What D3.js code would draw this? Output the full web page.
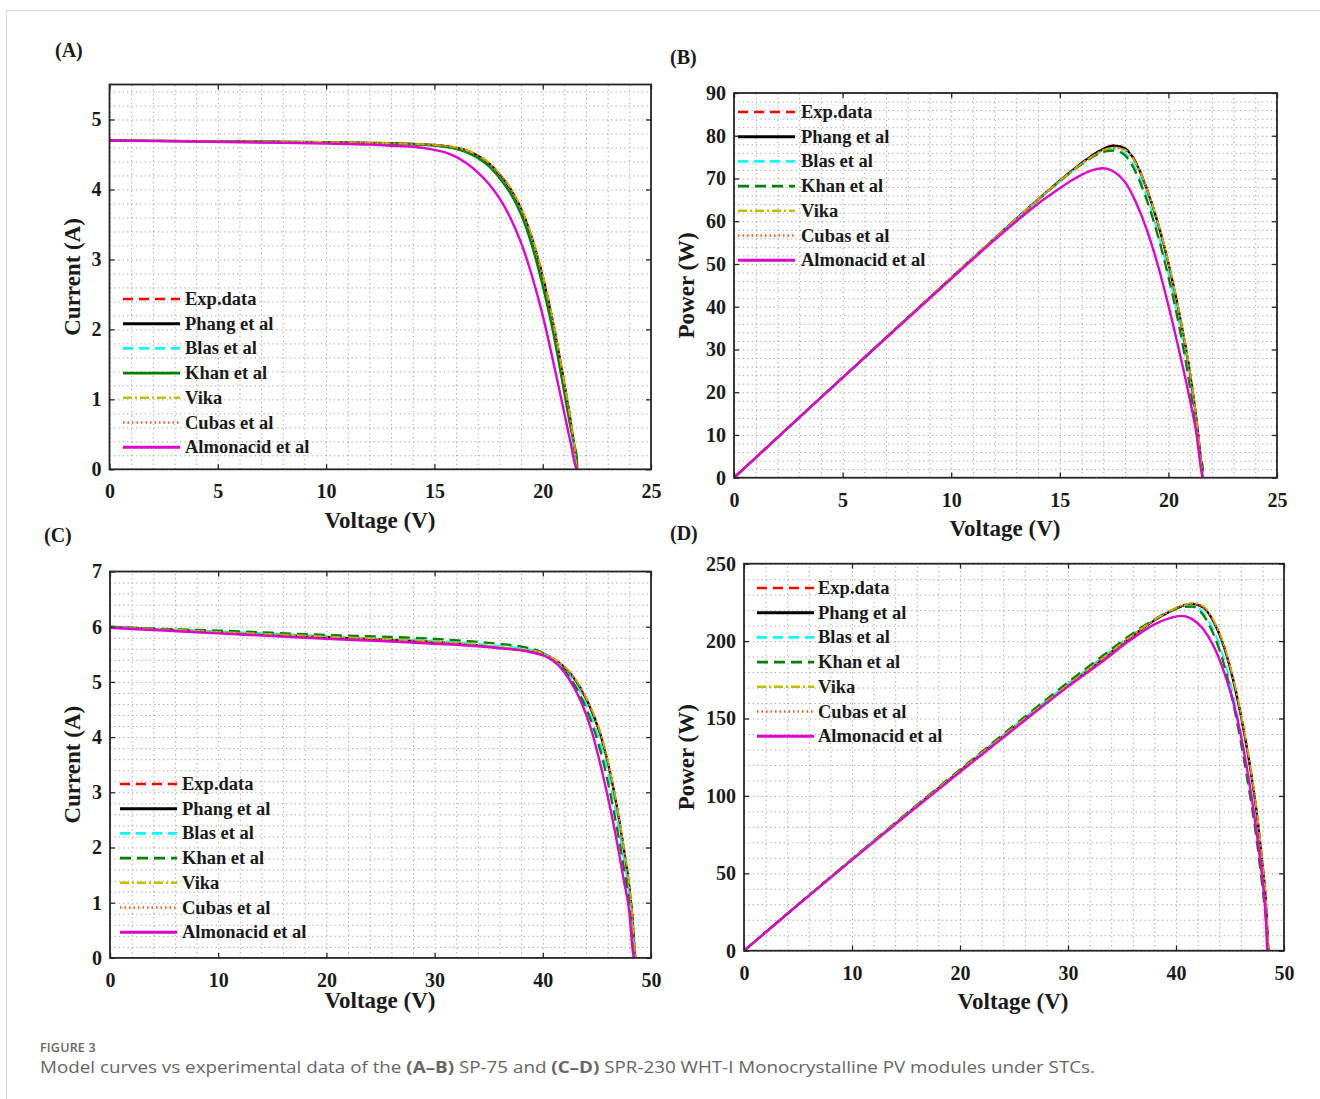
<!DOCTYPE html>
<html><head><meta charset="utf-8">
<script src="https://cdn.jsdelivr.net/npm/d3@7"></script>
<style>
html,body{margin:0;padding:0;background:#fff;}
svg{display:block;}
</style></head><body>
<svg id="chart" width="1320" height="1099"></svg>
<script>
// ---------------- DATA ----------------
const seriesNames = ["Exp.data","Phang et al","Blas et al","Khan et al","Vika","Cubas et al","Almonacid et al"];

// Panel A : SP-75 I-V
const voltA = [0,2,4,6,8,10,12,13,14,15,15.5,16,16.5,17,17.5,18,18.5,19,19.5,20,20.5,21,21.3,21.5,21.57,21.6];
const curA_exp   = [4.70,4.695,4.69,4.685,4.68,4.672,4.665,4.658,4.648,4.632,4.618,4.598,4.557,4.485,4.38,4.222,4.02,3.73,3.31,2.77,2.08,1.23,0.67,0.22,0,null];
const curA_phang = [4.70,4.695,4.69,4.685,4.68,4.675,4.665,4.66,4.65,4.635,4.62,4.598,4.555,4.48,4.375,4.215,4.01,3.72,3.30,2.75,2.06,1.21,0.66,0.20,0,null];
const curA_blas  = [4.70,4.695,4.69,4.685,4.68,4.672,4.662,4.655,4.645,4.628,4.61,4.585,4.535,4.455,4.345,4.175,3.965,3.665,3.23,2.65,1.95,1.10,0.57,0.15,0,null];
const curA_khan  = [4.70,4.695,4.69,4.685,4.68,4.672,4.662,4.655,4.645,4.628,4.61,4.58,4.53,4.45,4.335,4.165,3.95,3.645,3.20,2.62,1.93,1.09,0.58,0.30,0.19,0];
const curA_vika  = [4.70,4.695,4.69,4.686,4.681,4.676,4.667,4.661,4.652,4.636,4.622,4.602,4.56,4.49,4.387,4.23,4.03,3.74,3.33,2.78,2.09,1.24,0.69,0.24,0,null];
const curA_cubas = [4.70,4.695,4.69,4.685,4.68,4.675,4.666,4.66,4.651,4.635,4.62,4.60,4.558,4.487,4.383,4.225,4.022,3.732,3.32,2.77,2.08,1.23,0.68,0.23,0,null];
const curA_almo  = [4.70,4.69,4.685,4.675,4.665,4.655,4.64,4.625,4.61,4.565,4.53,4.465,4.37,4.245,4.085,3.875,3.60,3.24,2.77,2.20,1.52,0.80,0.36,0.06,0,null];

// Panel B : SP-75 P-V
const voltB = [0,2,4,6,8,10,12,13,14,15,15.5,16,16.5,17,17.5,18,18.5,19,19.5,20,20.5,21,21.3,21.5,21.57,21.6];
const powB_exp   = [0,9.39,18.76,28.1,37.43,46.73,55.98,60.58,65.1,69.5,71.6,73.62,75.45,76.95,77.75,77.1,73.9,67.8,60.0,50.3,38.6,24.4,13.4,3.9,0,null];
const powB_phang = [0,9.39,18.76,28.11,37.44,46.75,56.0,60.6,65.1,69.5,71.6,73.6,75.4,76.9,77.7,77.0,73.7,67.6,59.8,50.1,38.4,24.2,13.2,3.8,0,null];
const powB_blas  = [0,9.39,18.76,28.1,37.43,46.72,55.95,60.5,65.0,69.35,71.4,73.35,75.1,76.4,76.9,75.9,72.2,65.8,57.6,47.9,36.2,22.0,11.4,2.8,0,null];
const powB_khan  = [0,9.39,18.76,28.1,37.43,46.72,55.95,60.5,65.0,69.35,71.4,73.3,75.0,76.2,76.5,75.4,71.4,65.0,56.9,47.0,35.3,21.0,10.8,4.2,3.0,0];
const powB_vika  = [0,9.39,18.76,28.11,37.45,46.76,56.0,60.6,65.1,69.45,71.5,73.45,75.2,76.6,77.2,76.7,73.6,67.7,60.0,50.4,38.7,24.5,13.5,4.0,0,null];
const powB_cubas = [0,9.39,18.76,28.1,37.44,46.74,55.98,60.55,65.05,69.4,71.45,73.4,75.15,76.55,77.15,76.6,73.5,67.6,59.9,50.2,38.5,24.3,13.3,3.9,0,null];
const powB_almo  = [0,9.38,18.74,28.05,37.3,46.5,55.65,60.0,64.1,67.7,69.4,70.85,71.95,72.4,71.6,69.2,64.5,58.1,50.0,40.3,29.6,18.0,10.0,2.0,0,null];

// Panel C : SPR-230 I-V
const voltC = [0,5,10,15,20,25,30,33,36,38,39.5,40.5,41.5,42.5,43.5,44.5,45.5,46.5,47.5,48,48.3,48.4,48.55];
const curC_exp   = [5.99,5.95,5.905,5.865,5.815,5.775,5.725,5.685,5.625,5.585,5.545,5.475,5.35,5.17,4.89,4.50,3.95,3.11,1.97,1.29,0.70,0.40,0];
const curC_phang = [5.99,5.95,5.90,5.86,5.81,5.77,5.72,5.68,5.62,5.58,5.54,5.47,5.34,5.16,4.88,4.48,3.93,3.09,1.95,1.27,0.68,0.38,0];
const curC_blas  = [6.0,5.955,5.915,5.875,5.83,5.79,5.745,5.705,5.65,5.605,5.555,5.47,5.32,5.11,4.80,4.36,3.77,2.90,1.78,1.12,0.55,0.28,0];
const curC_khan  = [6.0,5.96,5.93,5.89,5.85,5.82,5.78,5.74,5.69,5.64,5.57,5.47,5.31,5.08,4.74,4.27,3.62,2.72,1.62,0.98,0.45,0.22,0];
const curC_vika  = [5.99,5.95,5.905,5.865,5.82,5.78,5.73,5.69,5.63,5.59,5.55,5.48,5.355,5.18,4.90,4.51,3.97,3.13,1.99,1.31,0.72,0.41,0];
const curC_cubas = [5.99,5.95,5.90,5.86,5.815,5.77,5.72,5.68,5.62,5.58,5.545,5.475,5.345,5.165,4.885,4.49,3.94,3.10,1.96,1.28,0.69,0.39,0];
const curC_almo  = [5.98,5.93,5.88,5.83,5.78,5.74,5.69,5.66,5.61,5.57,5.51,5.44,5.29,5.03,4.66,4.12,3.36,2.46,1.39,0.82,0.15,0,null];

// Panel D : SPR-230 P-V
const voltD = [0,5,10,15,20,25,30,33,36,38,39.5,40.5,41.5,42.5,43.5,44.5,45.5,46.5,47.5,48,48.3,48.45,48.55];
const powD_exp   = [0,29.7,59.0,87.9,116.3,144.4,171.7,187.7,203.7,213.6,219.5,222.7,224.3,222.2,212.7,195.6,169.3,134.2,88.2,56.6,34.5,14.4,0];
const powD_phang = [0,29.7,59.0,87.9,116.3,144.3,171.6,187.5,203.5,213.4,219.3,222.4,224.0,221.8,212.2,195.0,168.6,133.5,87.5,56.0,34.0,14.0,0];
const powD_blas  = [0,29.75,59.2,88.2,116.7,145.0,172.5,188.5,204.5,213.8,219.4,222.2,222.8,218.5,206.5,187.0,158.5,121.5,75.5,46.0,26.5,10.0,0];
const powD_khan  = [0,29.8,59.3,88.4,117.0,145.5,173.4,189.4,205.0,214.0,219.5,222.0,222.3,217.0,204.0,183.5,153.0,115.0,70.0,41.0,22.0,8.0,0];
const powD_vika  = [0,29.7,59.0,87.9,116.3,144.4,171.8,187.8,203.8,213.8,219.8,223.0,224.5,222.6,213.2,196.2,170.0,135.0,89.0,57.2,35.0,14.8,0];
const powD_cubas = [0,29.7,59.0,87.9,116.3,144.3,171.6,187.6,203.6,213.5,219.4,222.6,224.2,222.0,212.5,195.4,169.0,134.0,88.0,56.4,34.3,14.2,0];
const powD_almo  = [0,29.6,58.7,87.3,115.4,143.2,170.6,185.8,201.8,210.8,215.0,216.3,214.2,208.0,196.5,179.0,155.2,120.5,74.5,46.5,23.0,0,null];

// Tick labels
const xTicksA = [0,5,10,15,20,25];
const yTicksA = [0,1,2,3,4,5];
const xTicksB = [0,5,10,15,20,25];
const yTicksB = [0,10,20,30,40,50,60,70,80,90];
const xTicksC = [0,10,20,30,40,50];
const yTicksC = [0,1,2,3,4,5,6,7];
const xTicksD = [0,10,20,30,40,50];
const yTicksD = [0,50,100,150,200,250];

// ---------------- STYLE / LAYOUT ----------------
const styles = {
  "Exp.data":        {color:"#ff0000", dash:"10,6",     w:2},
  "Phang et al":     {color:"#000000", dash:null,       w:2.3},
  "Blas et al":      {color:"#00ffff", dash:"10,6",     w:2},
  "Khan et al":      {color:"#008000", dash:"11,6",     w:2.3},
  "Vika":            {color:"#bfbf00", dash:"9,3,2,3",  w:2},
  "Cubas et al":     {color:"#ff5a1e", dash:"1.5,3",    w:2},
  "Almonacid et al": {color:"#e000d0", dash:null,       w:2.4}
};
const FONT = "'Liberation Serif','Times New Roman',serif";
const INK = "#1a1a1a";

const panels = [
  {label:"(A)", lx:55, ly:57, x0:109.5, x1:651, y0:84.5, y1:469.3, xd:[0,25], yd:[0,5.5], xMinor:1, yMinor:0.2,
   xt:xTicksA, yt:yTicksA, ytitle:"Current (A)", ytx:80, xtx:380, xty:528,
   volt:voltA, vals:[curA_exp,curA_phang,curA_blas,curA_khan,curA_vika,curA_cubas,curA_almo], khanSolid:true,
   leg:{x:123, y:299, tx:185}},
  {label:"(B)", lx:670, ly:64, x0:734, x1:1277, y0:93, y1:477.7, xd:[0,25], yd:[0,90], xMinor:1, yMinor:2,
   xt:xTicksB, yt:yTicksB, ytitle:"Power (W)", ytx:694, xtx:1005, xty:536,
   volt:voltB, vals:[powB_exp,powB_phang,powB_blas,powB_khan,powB_vika,powB_cubas,powB_almo], khanSolid:false,
   leg:{x:738, y:112, tx:801}},
  {label:"(C)", lx:44, ly:542, x0:110, x1:651, y0:571.5, y1:957.9, xd:[0,50], yd:[0,7], xMinor:2, yMinor:0.2,
   xt:xTicksC, yt:yTicksC, ytitle:"Current (A)", ytx:80, xtx:380, xty:1008,
   volt:voltC, vals:[curC_exp,curC_phang,curC_blas,curC_khan,curC_vika,curC_cubas,curC_almo], khanSolid:false,
   leg:{x:120, y:784, tx:182}},
  {label:"(D)", lx:670, ly:540, x0:744, x1:1284, y0:563.7, y1:950.7, xd:[0,50], yd:[0,250], xMinor:2, yMinor:10,
   xt:xTicksD, yt:yTicksD, ytitle:"Power (W)", ytx:694, xtx:1013, xty:1009,
   volt:voltD, vals:[powD_exp,powD_phang,powD_blas,powD_khan,powD_vika,powD_cubas,powD_almo], khanSolid:false,
   leg:{x:757, y:588, tx:818}}
];

const svg = d3.select("#chart");
svg.append("rect").attr("width",1320).attr("height",1099).attr("fill","#fff");
// card border
svg.append("rect").attr("x",6.5).attr("y",10.5).attr("width",1400).attr("height",1200)
  .attr("fill","none").attr("stroke","#d8d8d8").attr("stroke-width",1.2);

const defs = svg.append("defs");

panels.forEach((p,pi) => {
  const x = d3.scaleLinear().domain(p.xd).range([p.x0,p.x1]);
  const y = d3.scaleLinear().domain(p.yd).range([p.y1,p.y0]);
  const g = svg.append("g");

  // minor dotted grid
  const gx = d3.range(p.xd[0], p.xd[1]+1e-9, p.xMinor);
  const gy = d3.range(p.yd[0], p.yd[1]+1e-9, p.yMinor);
  const gridStyle = s => s.selectAll("line").attr("stroke","#a6a6a6").attr("stroke-width",1).attr("stroke-dasharray","1.3,3.1");
  g.append("g").call(d3.axisBottom(x).tickValues(gx).tickSize(-(p.y1-p.y0)).tickFormat(""))
    .attr("transform",`translate(0,${p.y1})`)
    .call(s=>s.select(".domain").remove()).call(gridStyle);
  g.append("g").call(d3.axisLeft(y).tickValues(gy).tickSize(-(p.x1-p.x0)).tickFormat(""))
    .attr("transform",`translate(${p.x0},0)`)
    .call(s=>s.select(".domain").remove()).call(gridStyle);

  // clip
  const cid = "clip"+pi;
  defs.append("clipPath").attr("id",cid).append("rect")
    .attr("x",p.x0).attr("y",p.y0-2).attr("width",p.x1-p.x0).attr("height",p.y1-p.y0+2);

  // curves
  const cg = g.append("g").attr("clip-path",`url(#${cid})`);
  seriesNames.forEach((name,si) => {
    const st = styles[name];
    const vals = p.vals[si];
    const pts = p.volt.map((v,k)=>[v, vals[k]]);
    const line = d3.line().defined(d=>d[1]!==null && d[1]!==undefined)
      .x(d=>x(d[0])).y(d=>y(d[1])).curve(d3.curveMonotoneX);
    const dash = (name==="Khan et al" && p.khanSolid) ? null : st.dash;
    cg.append("path").attr("d",line(pts)).attr("fill","none")
      .attr("stroke",st.color).attr("stroke-width",st.w)
      .attr("stroke-dasharray",dash).attr("stroke-linejoin","round");
  });

  // axes with ticks inward
  const tickStyle = s => {
    s.select(".domain").remove();
    s.selectAll(".tick line").attr("stroke","#262626").attr("stroke-width",1.3);
    s.selectAll("text").attr("font-family",FONT).attr("font-weight","bold")
      .attr("font-size",20).attr("fill",INK);
  };
  g.append("g").attr("transform",`translate(0,${p.y1})`)
    .call(d3.axisBottom(x).tickValues(p.xt).tickSizeInner(-5).tickSizeOuter(0).tickPadding(15).tickFormat(d3.format("d")))
    .call(tickStyle);
  g.append("g").attr("transform",`translate(${p.x0},0)`)
    .call(d3.axisLeft(y).tickValues(p.yt).tickSizeInner(-5).tickSizeOuter(0).tickPadding(8).tickFormat(d3.format("d")))
    .call(tickStyle);
  g.append("g").attr("transform",`translate(0,${p.y0})`)
    .call(d3.axisTop(x).tickValues(p.xt).tickSizeInner(-5).tickSizeOuter(0).tickFormat(""))
    .call(tickStyle);
  g.append("g").attr("transform",`translate(${p.x1},0)`)
    .call(d3.axisRight(y).tickValues(p.yt).tickSizeInner(-5).tickSizeOuter(0).tickFormat(""))
    .call(tickStyle);

  // box
  g.append("rect").attr("x",p.x0).attr("y",p.y0).attr("width",p.x1-p.x0).attr("height",p.y1-p.y0)
    .attr("fill","none").attr("stroke","#262626").attr("stroke-width",1.8);

  // axis titles
  g.append("text").attr("x",p.xtx).attr("y",p.xty).attr("text-anchor","middle")
    .attr("font-family",FONT).attr("font-weight","bold").attr("font-size",23).attr("fill",INK)
    .text("Voltage (V)");
  g.append("text").attr("transform",`translate(${p.ytx},${(p.y0+p.y1)/2}) rotate(-90)`)
    .attr("text-anchor","middle")
    .attr("font-family",FONT).attr("font-weight","bold").attr("font-size",23).attr("fill",INK)
    .text(p.ytitle);

  // panel label
  g.append("text").attr("x",p.lx).attr("y",p.ly)
    .attr("font-family",FONT).attr("font-weight","bold").attr("font-size",20).attr("fill",INK)
    .text(p.label);

  // legend
  const lg = g.append("g");
  seriesNames.forEach((name,si) => {
    const st = styles[name];
    const yy = p.leg.y + si*24.7;
    const dash = (name==="Khan et al" && p.khanSolid) ? null : st.dash;
    lg.append("line").attr("x1",p.leg.x).attr("x2",p.leg.x+57).attr("y1",yy).attr("y2",yy)
      .attr("stroke",st.color).attr("stroke-width",st.w+0.6).attr("stroke-dasharray",dash);
    lg.append("text").attr("x",p.leg.tx).attr("y",yy+6)
      .attr("font-family",FONT).attr("font-weight","bold").attr("font-size",18.5).attr("fill",INK)
      .text(name);
  });
});

// caption
const CAPFONT = "'Open Sans','Noto Sans',sans-serif";
svg.append("text").attr("x",40).attr("y",1052)
  .attr("font-family",CAPFONT).attr("font-size",12.5).attr("font-weight",600)
  .attr("fill","#666").attr("letter-spacing",0.2).text("FIGURE 3");
const cap = svg.append("text").attr("x",40).attr("y",1073)
  .attr("font-family",CAPFONT).attr("font-size",16).attr("fill","#666")
  .attr("textLength",1055).attr("lengthAdjust","spacingAndGlyphs");
const capParts = [["Model curves vs experimental data of the ",false],["(A–B)",true],[" SP-75 and ",false],["(C–D)",true],[" SPR-230 WHT-I Monocrystalline PV modules under STCs.",false]];
capParts.forEach(([t,b]) => cap.append("tspan").attr("font-weight", b?700:400).text(t));
</script>
</body></html>
